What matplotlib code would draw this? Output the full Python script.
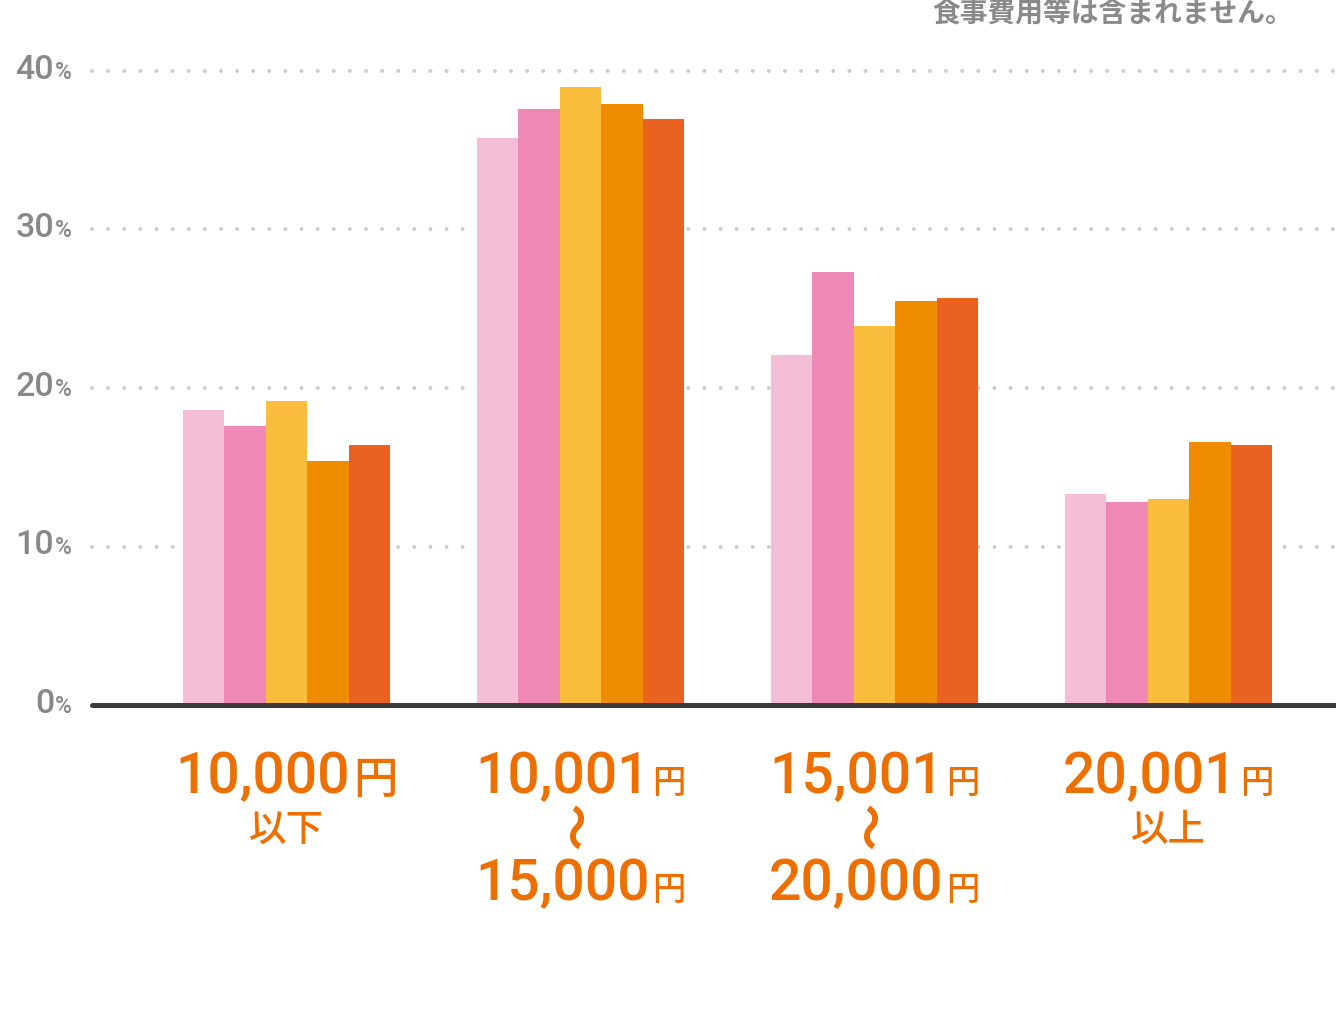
import matplotlib
matplotlib.use("Agg")
import matplotlib.pyplot as plt
import numpy as np

# values (%), five series per price band
groups = ["10,000円以下", "10,001円〜15,000円", "15,001円〜20,000円", "20,001円以上"]
s1 = [18.6, 35.8, 22.1, 13.3]
s2 = [17.6, 37.6, 27.3, 12.8]
s3 = [19.2, 39.0, 23.9, 13.0]
s4 = [15.4, 37.9, 25.5, 16.6]
s5 = [16.4, 37.0, 25.7, 16.4]
series = [s1, s2, s3, s4, s5]
colors = ["#F5BED7", "#EE89B5", "#FABD3D", "#F08C00", "#EA6220"]
yticks = [0, 10, 20, 30, 40]
note = "食事費用等は含まれません。"

# label lines: (number, 円, 円 size)
label_lines = [
    [("10,000", "円", 32), ("以下", None, None)],
    [("10,001", "円", 24), ("〜", None, None), ("15,000", "円", 24)],
    [("15,001", "円", 24), ("〜", None, None), ("20,000", "円", 24)],
    [("20,001", "円", 24), ("以上", None, None)],
]

W, H = 1336, 1033
fig = plt.figure(figsize=(W / 100, H / 100), dpi=100)
fig.patch.set_facecolor("white")

# axes: 0% at y=705 px, 40% at y=71 px (from top)
ax = fig.add_axes([92 / W, (H - 705) / H, (W - 92) / W, (705 - 71) / H])
ax.set_ylim(0, 40)
ax.set_xlim(-0.6616, 3.5697)
ax.axis("off")

# dotted grid
for v in yticks[1:]:
    ax.axhline(v, color="#CDCDCD", lw=2.9, linestyle=(0, (0.001, 4)),
               dash_capstyle="round", zorder=1, clip_on=False)

bw = 0.1412
x = np.arange(len(groups))
for i, (vals, c) in enumerate(zip(series, colors)):
    ax.bar(x + (i - 2) * bw, vals, width=bw, color=c, zorder=2, linewidth=0)

ax.axhline(0, color="#3D3A3B", lw=3.6, solid_capstyle="round", zorder=3,
           clip_on=False)

fam = ["Roboto", "Noto Sans CJK JP", "DejaVu Sans"]
cjk = ["Noto Sans CJK JP", "DejaVu Sans"]
r = fig.canvas.get_renderer()


def pair(xpix, ybase, a, b, sa, sb, color, weight, align="center", gap=1):
    t1 = fig.text(0, 0, a, transform=None, fontsize=sa, family=fam,
                  color=color, fontweight=weight, ha="left", va="baseline")
    t2 = fig.text(0, 0, b, transform=None, fontsize=sb, family=fam,
                  color=color, fontweight=weight, ha="left", va="baseline")
    w1 = t1.get_window_extent(r).width
    w2 = t2.get_window_extent(r).width
    tot = w1 + w2 + gap
    left = xpix - tot / 2 if align == "center" else xpix - tot
    t1.set_position((left, ybase))
    t2.set_position((left + w1 + gap, ybase))


# y tick labels
for v in yticks:
    yp = ax.transData.transform((0, v))[1]
    pair(72, yp - 8, str(v), "%", 24.5, 16.5, "#888888", "medium", align="right")

# x labels
orange = "#EC6F00"
for gi, lines in enumerate(label_lines):
    xc = ax.transData.transform((x[gi], 0))[0]
    for li, (txt, yen, ysz) in enumerate(lines):
        if yen is not None:
            yb = H - 793 if li == 0 else H - 900
            pair(xc, yb, txt, yen, 41, ysz, orange, "medium", gap=3)
        elif txt == "〜":
            fig.text(xc, H - 825, txt, transform=None, fontsize=34,
                     family=cjk, color=orange, rotation=90, fontweight="bold",
                     ha="center", va="center")
        else:
            fig.text(xc, H - 841, txt, transform=None, fontsize=27,
                     family=cjk, color=orange, fontweight="medium",
                     ha="center", va="baseline")

fig.text(1293, H - 21, note, transform=None, fontsize=20, family=cjk,
         color="#8A8A8A", fontweight="bold", ha="right", va="baseline")

fig.savefig("out.png", dpi=100)
